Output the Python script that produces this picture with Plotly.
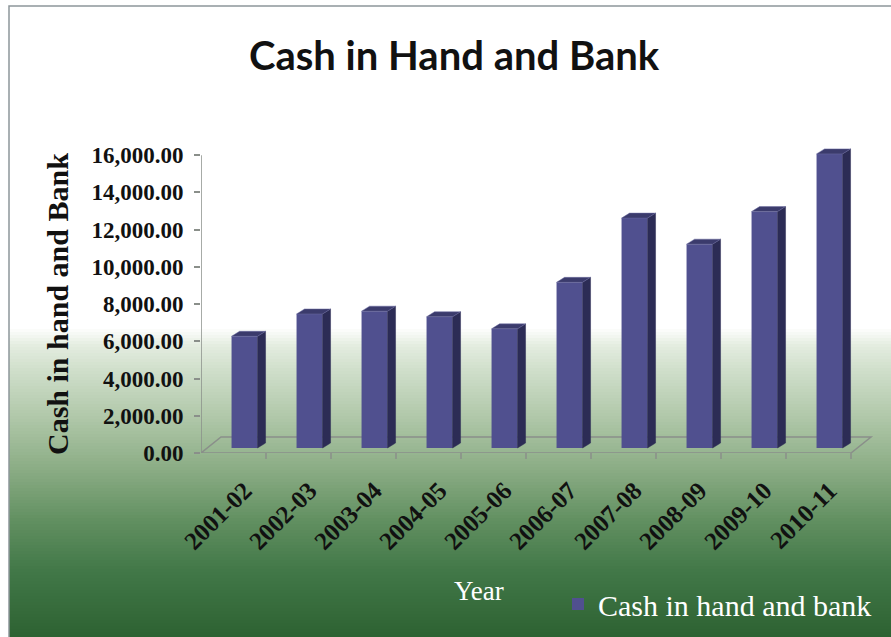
import plotly.graph_objects as go

# ---- data -------------------------------------------------------------
years = ["2001-02", "2002-03", "2003-04", "2004-05", "2005-06",
         "2006-07", "2007-08", "2008-09", "2009-10", "2010-11"]
cash = [6000, 7200, 7350, 7050, 6400, 8900, 12350, 10950, 12700, 15800]
y_ticks = [0, 2000, 4000, 6000, 8000, 10000, 12000, 14000, 16000]
series_name = "Cash in hand and bank"

# ---- page geometry ----------------------------------------------------
W, H = 891, 637
ML, MR, MT, MB = 201, 1, 144, 184
PW, PH = W - ML - MR, H - MT - MB
X_MAX = 10.6
Y_MAX = 16600
px_per_x = PW / X_MAX
px_per_y = PH / Y_MAX


def paper_x(px):
    return (px - ML) / PW


def paper_y(py):
    return (H - MB - py) / PH


# pseudo-3D offsets expressed in axis units
floor_dx, floor_dy = 20 / px_per_x, 16 / px_per_y
bar_dx, bar_dy = 8 / px_per_x, 5 / px_per_y
bar_base = bar_dy
bar_off, bar_w = 0.47, 0.40

FRONT = "#50508f"
SIDE = "#2c2c55"
TOP = "#3b3b6c"
SERIF = "Liberation Serif"

n = len(years)
centers = [i + bar_off + bar_w / 2 for i in range(n)]

fig = go.Figure()

# front faces
fig.add_trace(go.Bar(
    x=centers, y=cash, base=bar_base, width=bar_w,
    marker=dict(color=FRONT, line=dict(width=0)),
    name=series_name, showlegend=True, hoverinfo="skip",
))

# side and top faces
side_x, side_y, top_x, top_y = [], [], [], []
for i, v in enumerate(cash):
    xl = i + bar_off
    xr = xl + bar_w
    b = bar_base
    side_x += [xr, xr + bar_dx, xr + bar_dx, xr, xr, None]
    side_y += [b, b + bar_dy, b + v + bar_dy, b + v, b, None]
    top_x += [xl, xr, xr + bar_dx, xl + bar_dx, xl, None]
    top_y += [b + v, b + v, b + v + bar_dy, b + v + bar_dy, b + v, None]

fig.add_trace(go.Scatter(x=side_x, y=side_y, mode="lines", fill="toself",
                         fillcolor=SIDE, line=dict(width=0.5, color=SIDE),
                         showlegend=False, hoverinfo="skip"))
fig.add_trace(go.Scatter(x=top_x, y=top_y, mode="lines", fill="toself",
                         fillcolor=TOP, line=dict(width=0.5, color="#6a6aa0"),
                         showlegend=False, hoverinfo="skip"))

shapes = []

# background: white fading into green toward the bottom
stops = [(0, (255, 255, 255)), (328, (255, 255, 255)), (345, (228, 237, 224)),
         (370, (208, 223, 203)), (420, (174, 198, 167)), (470, (138, 172, 132)),
         (520, (98, 144, 97)), (570, (66, 120, 72)), (637, (45, 98, 50))]


def color_at(py):
    for (y0, c0), (y1, c1) in zip(stops[:-1], stops[1:]):
        if y0 <= py <= y1:
            t = (py - y0) / (y1 - y0) if y1 > y0 else 0
            return "rgb(%d,%d,%d)" % tuple(round(a + (b - a) * t) for a, b in zip(c0, c1))
    return "rgb(%d,%d,%d)" % stops[-1][1]


step = 3
for py in range(320, H + step, step):
    shapes.append(dict(type="rect", xref="paper", yref="paper", layer="below",
                       x0=paper_x(9), x1=paper_x(W + 5),
                       y0=paper_y(py + step + 0.5), y1=paper_y(py),
                       fillcolor=color_at(py + step / 2), line=dict(width=0)))

# chart frame
shapes.append(dict(type="rect", xref="paper", yref="paper", layer="below",
                   x0=paper_x(9), x1=paper_x(W + 5), y0=paper_y(H + 5), y1=paper_y(6),
                   line=dict(color="#8d969a", width=1.5), fillcolor="rgba(0,0,0,0)"))

# floor
fx = [0, n, n + floor_dx, floor_dx, 0]
fy = [0, 0, floor_dy, floor_dy, 0]
path = "M " + " L ".join(f"{a},{b}" for a, b in zip(fx, fy)) + " Z"
shapes.append(dict(type="path", xref="x", yref="y", layer="below", path=path,
                   line=dict(color="#8a8f8a", width=1.5), fillcolor="rgba(0,0,0,0)"))

# floor tick marks at category boundaries
for k in range(1, n + 1):
    shapes.append(dict(type="line", xref="x", yref="paper", layer="below",
                       x0=k, x1=k, y0=paper_y(453), y1=paper_y(459),
                       line=dict(color="#8a8f8a", width=1.5)))

# value axis line
shapes.append(dict(type="line", xref="x", yref="y", layer="below",
                   x0=0, x1=0, y0=0, y1=y_ticks[-1],
                   line=dict(color="#8a8f8a", width=1.5)))

annotations = [
    dict(text="<b>Cash in Hand and Bank</b>", xref="paper", yref="paper",
         x=paper_x(454), y=paper_y(55), xanchor="center", yanchor="middle",
         showarrow=False, font=dict(family="Lato", size=40, color="#111111")),
    dict(text="<b>Cash in hand and Bank</b>", xref="paper", yref="paper",
         x=paper_x(57), y=paper_y(304), xanchor="center", yanchor="middle",
         textangle=-90, showarrow=False,
         font=dict(family=SERIF, size=30, color="#111111")),
    dict(text="Year", xref="paper", yref="paper",
         x=paper_x(479), y=paper_y(591), xanchor="center", yanchor="middle",
         showarrow=False, font=dict(family=SERIF, size=27, color="#ffffff")),
]

fig.update_layout(
    width=W, height=H,
    margin=dict(l=ML, r=MR, t=MT, b=MB),
    paper_bgcolor="#ffffff", plot_bgcolor="rgba(0,0,0,0)",
    shapes=shapes, annotations=annotations,
    barmode="overlay",
    showlegend=True,
    legend=dict(x=paper_x(558), y=paper_y(604), xanchor="left", yanchor="middle",
                bgcolor="rgba(0,0,0,0)",
                font=dict(family=SERIF, size=30, color="#ffffff")),
    xaxis=dict(range=[0, X_MAX], showgrid=False, zeroline=False, showline=False,
               tickmode="array", tickvals=centers, ticktext=years, tickangle=-45,
               ticks="", ticklabelstandoff=17,
               tickfont=dict(family=SERIF, size=25, color="#111111", weight="bold")),
    yaxis=dict(range=[0, Y_MAX], showgrid=False, zeroline=False, showline=False,
               tickmode="array", tickvals=y_ticks, tickformat=",.2f",
               ticks="outside", ticklen=6, tickcolor="#8a8f8a", tickwidth=1.5,
               ticklabelstandoff=6,
               tickfont=dict(family=SERIF, size=23, color="#111111", weight="bold")),
)

fig.write_html("out.html")
